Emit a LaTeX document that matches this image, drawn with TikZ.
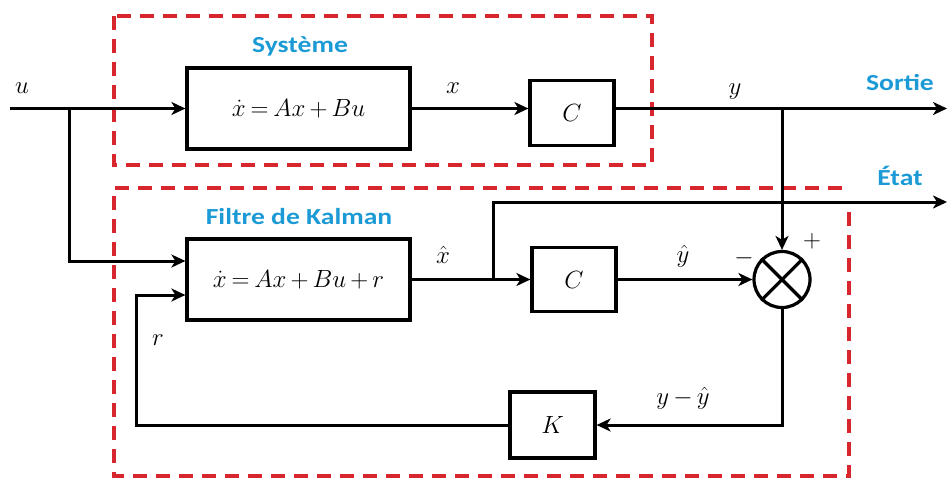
\documentclass[tikz,border=0pt]{standalone}
\usepackage{fontspec}
\newfontfamily\lblfont{Carlito}
\usetikzlibrary{arrows.meta}
\definecolor{kred}{HTML}{D7262E}
\definecolor{kblue}{HTML}{1C9AD6}
\medmuskip=3mu
\thickmuskip=3.5mu
\begin{document}
\begin{tikzpicture}[x=1pt,y=-1pt,
  box/.style={draw,line width=3.2pt,inner sep=0pt,font=\fontsize{25}{30}\selectfont},
  sig/.style={line width=3pt},
  arr/.style={sig,-{Stealth[length=14pt,width=13pt,inset=4pt]}},
  lbl/.style={text=kblue,font=\fontsize{23}{27}\selectfont\lblfont\bfseries},
  mth/.style={font=\fontsize{25}{30}\selectfont,inner sep=1pt},
  redframe/.style={draw=kred,line width=4pt,dash pattern=on 14pt off 9pt}]
\useasboundingbox (0,0) rectangle (949,480);
% frames
\draw[redframe] (114,16) rectangle (652,165);
\draw[redframe] (842,188) -- (114,188) -- (114,476) -- (849,476) -- (849,210);
% blocks
\node[box,minimum width=223pt,minimum height=81pt] (sys) at (298.5,108.5) {$\dot x = Ax+Bu$};
\node[box,minimum width=84pt,minimum height=65pt] (c1) at (572,113) {$C$};
\node[box,minimum width=223pt,minimum height=81pt] (kal) at (298.5,279.5) {$\dot x = Ax+Bu+r$};
\node[box,minimum width=84pt,minimum height=64pt] (c2) at (574,279.5) {$C$};
\node[draw,circle,line width=3.2pt,minimum size=56pt,inner sep=0pt] (sum) at (782,279.5) {};
\draw[line width=3.2pt] (sum.north west) -- (sum.south east) (sum.north east) -- (sum.south west);
\node[box,minimum width=85pt,minimum height=66pt] (k) at (552.5,425) {$K$};
% coordinates
\coordinate (uin) at (10,108.5);
\coordinate (usplit) at (69,108.5);
\coordinate (sortie) at (947,108.5);
\coordinate (ysplit) at (782,108.5);
\coordinate (etat) at (947,202);
\coordinate (xsplit) at (493,279.5);
% connectors
\draw[arr] (uin) -- (sys.west);
\draw[arr] (sys.east) -- (sys.east -| c1.west);
\draw[arr] (c1.east |- sys.east) -- (sortie);
\draw[arr] (ysplit) -- (sum.north);
\draw[arr] (usplit) |- ([yshift=18.5pt]kal.west);
\draw[arr] (kal.east) -- (c2.west);
\draw[arr] (xsplit) |- (etat);
\draw[arr] (c2.east) -- (sum.west);
\draw[arr] (sum.south) |- (k.east);
\draw[arr] (k.west) -| ([xshift=-49pt,yshift=-15.5pt]kal.west) -- ([yshift=-15.5pt]kal.west);
% labels
\node[mth] (lu) at (22,88) {$u$};
\node[mth] (lx) at (453,88) {$x$};
\node[mth] (ly) at (735,92) {$y$};
\node[mth] (lxh) at (443,255) {$\hat x$};
\node[mth] (lyh) at (683,256) {$\hat y$};
\node[mth] (lminus) at (744,258) {$-$};
\node[mth] (lplus) at (812,241) {$+$};
\node[mth] (lr) at (158,340) {$r$};
\node[mth] (lerr) at (683,398) {$y-\hat y$};
\node[lbl] (tsys) at (300,46) {\scalebox{1.2}[1]{Système}};
\node[lbl] (tkal) at (299,217) {\scalebox{1.2}[1]{Filtre de Kalman}};
\node[lbl] (tsortie) at (900,82) {\scalebox{1.2}[1]{Sortie}};
\node[lbl] (tetat) at (900,176) {\scalebox{1.2}[1]{État}};
\end{tikzpicture}
\end{document}
